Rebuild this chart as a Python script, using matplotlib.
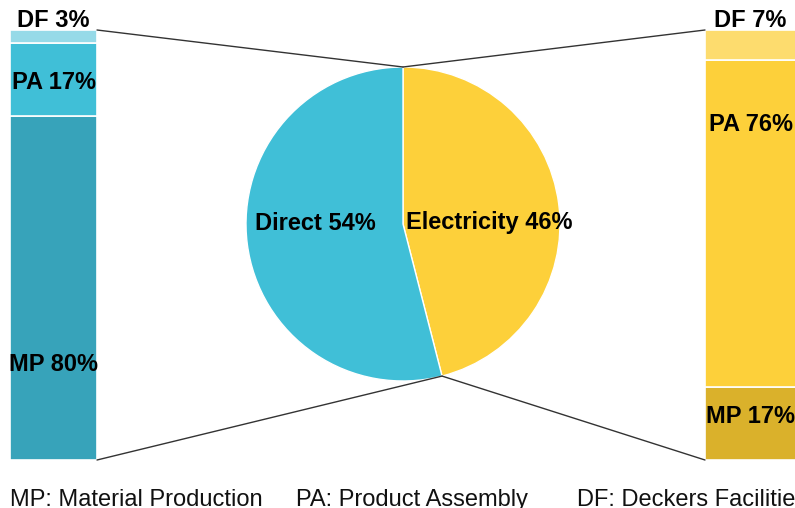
import numpy as np
import matplotlib
matplotlib.use("Agg")
import matplotlib.pyplot as plt
from matplotlib.patches import ConnectionPatch

# --- data -------------------------------------------------------------
pie_labels = ["Electricity", "Direct"]
pie_values = [46, 54]

segments = ["MP", "PA", "DF"]
direct_values = [80, 17, 3]
electricity_values = [17, 76, 7]

legend_items = ["MP: Material Production", "PA: Product Assembly", "DF: Deckers Facilities"]

# --- style ------------------------------------------------------------
direct_colors = ["#37a3ba", "#40bfd7", "#96dae8"]
elec_colors = ["#dab12b", "#fdd03a", "#fddc6e"]
pie_colors = ["#fdd03a", "#40bfd7"]
FONT = "Liberation Sans"

W, H = 795, 508
fig = plt.figure(figsize=(W / 100, H / 100), dpi=100)


def px_axes(x0, y0, x1, y1):
    """Axes placed by pixel box (top-left origin)."""
    return fig.add_axes([x0 / W, (H - y1) / H, (x1 - x0) / W, (y1 - y0) / H])


# --- pie --------------------------------------------------------------
ax_pie = px_axes(246, 67, 560, 381)
wedges, _ = ax_pie.pie(pie_values, colors=pie_colors, startangle=90,
                       counterclock=False, radius=1,
                       wedgeprops=dict(edgecolor="white", linewidth=1))
ax_pie.set_xlim(-1, 1)
ax_pie.set_ylim(-1, 1)
ax_pie.set_aspect("equal")
ax_pie.axis("off")
ax_pie.text(-0.56, 0.0, f"{pie_labels[1]} {pie_values[1]}%", ha="center", va="center",
            fontsize=17, fontweight="bold", family=FONT)
ax_pie.text(0.55, 0.01, f"{pie_labels[0]} {pie_values[0]}%", ha="center", va="center",
            fontsize=17, fontweight="bold", family=FONT, clip_on=False)

# boundary point between the two wedges (bottom)
theta = np.deg2rad(90 - 360 * pie_values[0] / sum(pie_values))
split_pt = (np.cos(theta), np.sin(theta))
top_pt = (0, 1)


# --- stacked bars -----------------------------------------------------
def stacked(ax, values, colors, label_y, label_x=0.0):
    bottoms = np.concatenate([[0], np.cumsum(values)[:-1]])
    ax.bar([0] * len(values), values, bottom=bottoms, width=1, color=colors,
           edgecolor="white", linewidth=1.2)
    ax.set_xlim(-0.5, 0.5)
    ax.set_ylim(0, 100)
    ax.axis("off")
    for seg, v, y in zip(segments, values, label_y):
        ax.text(label_x, y, f"{seg} {v}%", ha="center", va="center", fontsize=17,
                fontweight="bold", family=FONT, clip_on=False)


ax_left = px_axes(10, 30, 97, 460)
stacked(ax_left, direct_values, direct_colors, [22.3, 87.9, 102.2])

# right bar runs past the figure edge
ax_right = px_axes(705, 30, 800, 460)
stacked(ax_right, electricity_values, elec_colors, [10.2, 78.1, 102.2], label_x=-0.02)

# --- connector lines --------------------------------------------------
for ax_bar, xb in ((ax_left, 0.5), (ax_right, -0.5)):
    for yb, pt in ((100, top_pt), (0, split_pt)):
        con = ConnectionPatch(xyA=(xb, yb), coordsA=ax_bar.transData,
                              xyB=pt, coordsB=ax_pie.transData,
                              color="#333333", linewidth=1)
        fig.add_artist(con)

# --- legend text ------------------------------------------------------
for text, x in zip(legend_items, [10, 296, 577]):
    fig.text(x / W, (H - 506) / H, text, ha="left", va="baseline",
             fontsize=17, family=FONT, color="#111111")

fig.savefig("out.png", dpi=100)
